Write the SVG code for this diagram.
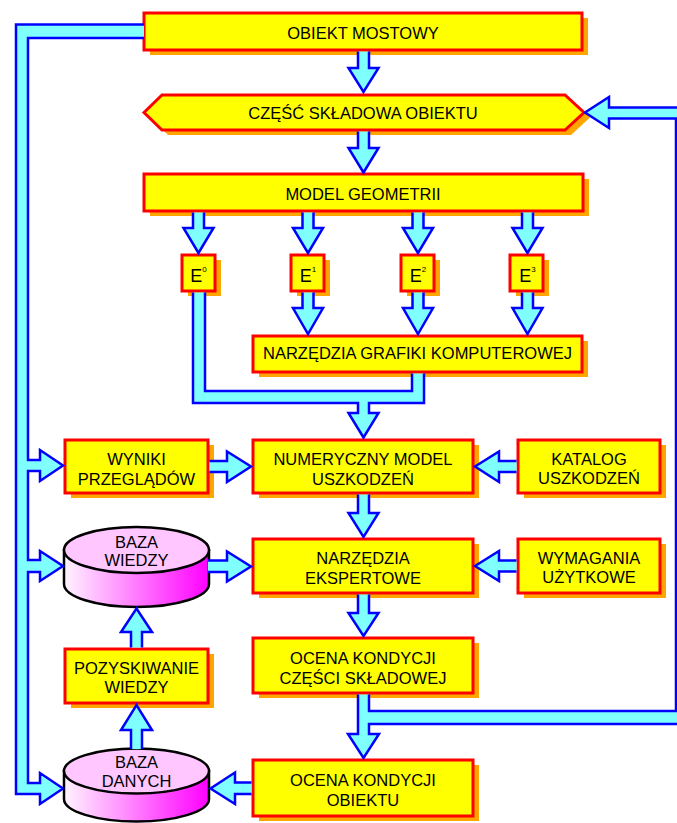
<svg xmlns="http://www.w3.org/2000/svg" width="677" height="823" viewBox="0 0 677 823">
<defs>
<linearGradient id="cylg" x1="0" y1="0" x2="1" y2="0">
<stop offset="0" stop-color="#FFF4FF"/>
<stop offset="1" stop-color="#FF00FF"/>
</linearGradient>
<style>
.box{fill:#FFFF00;stroke:#FF0000;stroke-width:3}
.sh{fill:#FFA500}
.pipe{fill:#80FFFF;stroke:#0000FF;stroke-width:2.5;stroke-linejoin:miter}
.pf{fill:#80FFFF;stroke:none}
.ps{fill:none;stroke:#0000FF;stroke-width:2.5;stroke-linejoin:miter}
.cyl{stroke:#000;stroke-width:2.5}
.top{fill:#FFC6FF;stroke:#000;stroke-width:2.5}
.t{font-family:"Liberation Sans",Arial,sans-serif;font-size:16.5px;text-anchor:middle;fill:#000}
.e{font-family:"Liberation Sans",Arial,sans-serif;font-size:18px;text-anchor:middle;fill:#000}
</style>
</defs>
<rect x="0" y="0" width="677" height="823" fill="#FFFFFF"/>

<g id="n1">
<rect class="sh" x="150" y="18" width="438" height="37"/>
<rect class="box" x="144" y="13" width="438" height="37"/>
<text class="t" x="363" y="38.5">OBIEKT MOSTOWY</text>
</g>
<g id="n2">
<polygon class="sh" points="150,117.5 168,100 571,100 590,117.5 571,135 168,135"/>
<polygon class="box" points="144,112.5 162,95 565,95 584,112.5 565,130 162,130"/>
<text class="t" x="363" y="119">CZĘŚĆ SKŁADOWA OBIEKTU</text>
</g>
<g id="n3">
<rect class="sh" x="150" y="179" width="439" height="37"/>
<rect class="box" x="144" y="174" width="439" height="37"/>
<text class="t" x="363" y="199.5">MODEL GEOMETRII</text>
</g>
<g id="e0">
<rect class="sh" x="188" y="260" width="33" height="36"/>
<rect class="box" x="182" y="255" width="33" height="36"/>
<text class="e" x="198.5" y="282">E<tspan font-size="8" dy="-10">0</tspan></text>
</g>
<g id="e1">
<rect class="sh" x="297" y="260" width="33" height="36"/>
<rect class="box" x="291" y="255" width="33" height="36"/>
<text class="e" x="308" y="282">E<tspan font-size="8" dy="-10">1</tspan></text>
</g>
<g id="e2">
<rect class="sh" x="407" y="260" width="33" height="36"/>
<rect class="box" x="401" y="255" width="33" height="36"/>
<text class="e" x="418" y="282">E<tspan font-size="8" dy="-10">2</tspan></text>
</g>
<g id="e3">
<rect class="sh" x="516" y="260" width="33" height="36"/>
<rect class="box" x="510" y="255" width="33" height="36"/>
<text class="e" x="527.5" y="282">E<tspan font-size="8" dy="-10">3</tspan></text>
</g>
<g id="n4">
<rect class="sh" x="259" y="341" width="329" height="36"/>
<rect class="box" x="253" y="336" width="329" height="36"/>
<text class="t" x="417.5" y="359">NARZĘDZIA GRAFIKI KOMPUTEROWEJ</text>
</g>
<g id="n5">
<rect class="sh" x="71" y="445" width="143" height="53"/>
<rect class="box" x="65" y="440" width="143" height="53"/>
<text class="t" x="136.5" y="465">WYNIKI</text>
<text class="t" x="136.5" y="485">PRZEGLĄDÓW</text>
</g>
<g id="n6">
<rect class="sh" x="259" y="445" width="220" height="53"/>
<rect class="box" x="253" y="440" width="220" height="53"/>
<text class="t" x="363" y="465">NUMERYCZNY MODEL</text>
<text class="t" x="363" y="485">USZKODZEŃ</text>
</g>
<g id="n7">
<rect class="sh" x="524" y="445" width="142" height="53"/>
<rect class="box" x="518" y="440" width="142" height="53"/>
<text class="t" x="589" y="464.5">KATALOG</text>
<text class="t" x="589" y="484">USZKODZEŃ</text>
</g>
<g id="n8">
<path class="cyl" fill="url(#cylg)" d="M64,550 L64,584 A72.5,23 0 0 0 209,584 L209,550 Z"/>
<ellipse class="top" cx="136.5" cy="550" rx="72.5" ry="23"/>
<text class="t" x="136.5" y="548">BAZA</text>
<text class="t" x="136.5" y="566">WIEDZY</text>
</g>
<g id="n9">
<rect class="sh" x="259" y="544" width="220" height="54"/>
<rect class="box" x="253" y="539" width="220" height="54"/>
<text class="t" x="363" y="563.5">NARZĘDZIA</text>
<text class="t" x="363" y="583.5">EKSPERTOWE</text>
</g>
<g id="n10">
<rect class="sh" x="524" y="544" width="142" height="54"/>
<rect class="box" x="518" y="539" width="142" height="54"/>
<text class="t" x="589" y="563.5">WYMAGANIA</text>
<text class="t" x="589" y="583">UŻYTKOWE</text>
</g>
<g id="n11">
<rect class="sh" x="71" y="654" width="143" height="54"/>
<rect class="box" x="65" y="649" width="143" height="54"/>
<text class="t" x="136.5" y="673.5">POZYSKIWANIE</text>
<text class="t" x="136.5" y="693">WIEDZY</text>
</g>
<g id="n12">
<rect class="sh" x="259" y="643" width="220" height="55"/>
<rect class="box" x="253" y="638" width="220" height="55"/>
<text class="t" x="363" y="663.5">OCENA KONDYCJI</text>
<text class="t" x="363" y="683.5">CZĘŚCI SKŁADOWEJ</text>
</g>
<g id="n13">
<path class="cyl" fill="url(#cylg)" d="M64,771 L64,799 A72.5,22.5 0 0 0 209,799 L209,771 Z"/>
<ellipse class="top" cx="136.5" cy="771" rx="72.5" ry="22.5"/>
<text class="t" x="136.5" y="768">BAZA</text>
<text class="t" x="136.5" y="787">DANYCH</text>
</g>
<g id="n14">
<rect class="sh" x="259" y="765" width="220" height="56"/>
<rect class="box" x="253" y="760" width="220" height="56"/>
<text class="t" x="363" y="786">OCENA KONDYCJI</text>
<text class="t" x="363" y="806">OBIEKTU</text>
</g>

<g id="connectors">
<path class="pipe" d="M358,51.5 L358,68 L348.5,68 L363.5,92 L378.5,68 L369,68 L369,51.5"/>
<path class="pipe" d="M358,131.5 L358,148 L348.5,148 L363.5,172.5 L378.5,148 L369,148 L369,131.5"/>
<path class="pipe" d="M193,212.5 L193,228 L183.5,228 L198.5,253 L213.5,228 L204,228 L204,212.5"/>
<path class="pipe" d="M302.5,212.5 L302.5,228 L293,228 L308,253 L323,228 L313.5,228 L313.5,212.5"/>
<path class="pipe" d="M412.5,212.5 L412.5,228 L403,228 L418,253 L433,228 L423.5,228 L423.5,212.5"/>
<path class="pipe" d="M522,212.5 L522,228 L512.5,228 L527.5,253 L542.5,228 L533,228 L533,212.5"/>
<path class="pipe" d="M302.5,292.5 L302.5,308 L293,308 L308,334 L323,308 L313.5,308 L313.5,292.5"/>
<path class="pipe" d="M412.5,292.5 L412.5,308 L403,308 L418,334 L433,308 L423.5,308 L423.5,292.5"/>
<path class="pipe" d="M522,292.5 L522,308 L512.5,308 L527.5,334 L542.5,308 L533,308 L533,292.5"/>
<path class="pf" d="M193,292.5 L193,403 L358,403 L358,413 L348.5,413 L363.5,437.5 L378.5,413 L369,413 L369,403 L424,403 L424,373.5 L412,373.5 L412,391 L205,391 L205,292.5 Z"/>
<path class="ps" d="M205,292.5 L205,391 L412,391 L412,373.5 M424,373.5 L424,403 L369,403 L369,413 L378.5,413 L363.5,437.5 L348.5,413 L358,413 L358,403 L193,403 L193,292.5"/>
<path class="pipe" d="M358,494.5 L358,513 L348.5,513 L363.5,537 L378.5,513 L369,513 L369,494.5"/>
<path class="pipe" d="M358,594.5 L358,613 L348.5,613 L363.5,636 L378.5,613 L369,613 L369,594.5"/>
<path class="pipe" d="M516.5,461 L499,461 L499,451.5 L475,466.5 L499,482 L499,472 L516.5,472"/>
<path class="pipe" d="M516.5,560.5 L499,560.5 L499,551 L475,566 L499,581 L499,571.5 L516.5,571.5"/>
<path class="pipe" d="M209.5,461 L227,461 L227,451.5 L251,466.5 L227,482 L227,472 L209.5,472"/>
<path class="pipe" d="M208,560.5 L227,560.5 L227,551.5 L251,566.5 L227,581.5 L227,572 L208,572"/>
<path class="pipe" d="M144,24.5 L16,24.5 L16,794 L40,794 L40,804 L63,788.5 L40,773 L40,783 L28,783 L28,572 L40,572 L40,581 L63,566 L40,551 L40,560 L28,560 L28,471 L40,471 L40,481 L63,465.5 L40,450 L40,460 L28,460 L28,38 L144,38"/>
<path class="pipe" d="M251.5,782.5 L235,782.5 L235,772.5 L210.5,788.5 L235,804 L235,794 L251.5,794"/>
<path class="pipe" d="M131,749 L131,730 L121,730 L136.5,705 L152,730 L142,730 L142,749"/>
<path class="pipe" d="M131,647.5 L131,632 L121,632 L136.5,608.5 L152,632 L142,632 L142,647.5"/>
<path class="pipe" d="M358,694.5 L358,734 L348,734 L363.5,758 L379,734 L369,734 L369,724 L690,724 L690,107.5 L609,107.5 L609,97 L585,112.5 L609,128 L609,118.5 L676,118.5 L676,711 L369,711 L369,694.5"/>
</g>
</svg>
